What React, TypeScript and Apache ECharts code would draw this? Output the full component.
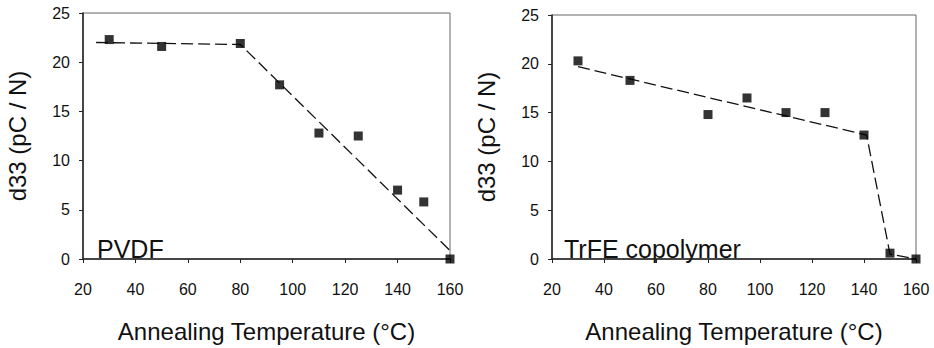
import React, { useEffect, useRef } from "react";
import * as echarts from "echarts";

const temps = [30, 50, 80, 95, 110, 125, 140, 150, 160];
const pvdfD33 = [22.3, 21.6, 21.9, 17.7, 12.8, 12.5, 7.0, 5.8, 0];
const trfeD33 = [20.3, 18.3, 14.8, 16.5, 15.0, 15.0, 12.7, 0.6, 0];
const pvdfFitX = [25, 80, 161];
const pvdfFitY = [22.0, 21.8, 0.6];
const trfeFitX = [30, 141, 150, 160];
const trfeFitY = [19.7, 12.7, 0.5, 0];
const xTicks = [20, 40, 60, 80, 100, 120, 140, 160];
const yTicks = [0, 5, 10, 15, 20, 25];
const panelLabels = ["PVDF", "TrFE copolymer"];
const xTitle = "Annealing Temperature (°C)";
const yTitle = "d33 (pC / N)";

const FONT = "Liberation Sans, Arial, sans-serif";
const TXT = "#111";

export default function App() {
  const ref = useRef<HTMLDivElement>(null);
  useEffect(() => {
    if (!ref.current) return;
    const chart = echarts.init(ref.current, undefined, { renderer: "svg" });
    const grids = [
      { left: 83, top: 13, width: 367, height: 255 },
      { left: 552, top: 15, width: 364, height: 253 },
    ];
    const mkX = (i: number) => ({
      type: "value",
      gridIndex: i,
      min: xTicks[0],
      max: xTicks[xTicks.length - 1],
      interval: 20,
      name: xTitle,
      nameLocation: "middle",
      nameGap: 60,
      nameTextStyle: { fontFamily: FONT, fontSize: 24, color: TXT },
      axisLine: { show: true, onZero: false, lineStyle: { color: "#222", width: 1.5 } },
      axisTick: { show: true, length: 4, lineStyle: { color: "#222" } },
      axisLabel: { fontFamily: FONT, fontSize: 16, color: TXT, margin: 22 },
      splitLine: { show: false },
    });
    const mkY = (i: number) => ({
      type: "value",
      gridIndex: i,
      min: yTicks[0],
      max: yTicks[yTicks.length - 1],
      interval: 5,
      name: yTitle,
      nameLocation: "middle",
      nameGap: 54,
      nameTextStyle: { fontFamily: FONT, fontSize: 24, color: TXT },
      axisLine: { show: true, onZero: false, lineStyle: { color: "#222", width: 1.5 } },
      axisTick: { show: true, length: 4, lineStyle: { color: "#222" } },
      axisLabel: { fontFamily: FONT, fontSize: 16, color: TXT, margin: 13 },
      splitLine: { show: false },
    });
    const scatter = (i: number, ys: number[]) => ({
      type: "scatter",
      xAxisIndex: i,
      yAxisIndex: i,
      symbol: "rect",
      symbolSize: 9,
      itemStyle: { color: "#000" },
      data: temps.map((t, k) => [t, ys[k]]),
      z: 3,
    });
    const fit = (i: number, xs: number[], ys: number[]) => ({
      type: "line",
      xAxisIndex: i,
      yAxisIndex: i,
      showSymbol: false,
      symbol: "none",
      clip: false,
      lineStyle: { color: "#111", width: 1.3, type: [12, 5] },
      data: xs.map((x, k) => [x, ys[k]]),
      z: 2,
    });
    chart.setOption({
      animation: false,
      backgroundColor: "#fff",
      grid: grids.map((g) => ({ ...g, show: true, borderColor: "#666", borderWidth: 1 })),
      xAxis: [mkX(0), mkX(1)],
      yAxis: [mkY(0), mkY(1)],
      series: [
        fit(0, pvdfFitX, pvdfFitY),
        scatter(0, pvdfD33),
        fit(1, trfeFitX, trfeFitY),
        scatter(1, trfeD33),
      ],
      graphic: [
        {
          type: "text",
          left: 97,
          top: 236,
          style: { text: panelLabels[0], fontFamily: FONT, fontSize: 25, fill: TXT },
        },
        {
          type: "text",
          left: 564,
          top: 236,
          style: { text: panelLabels[1], fontFamily: FONT, fontSize: 25, fill: TXT },
        },
      ],
    });
    return () => chart.dispose();
  }, []);
  return (
    <div
      ref={ref}
      style={{ position: "fixed", left: 0, top: 0, width: 934, height: 348, background: "#fff" }}
    />
  );
}
